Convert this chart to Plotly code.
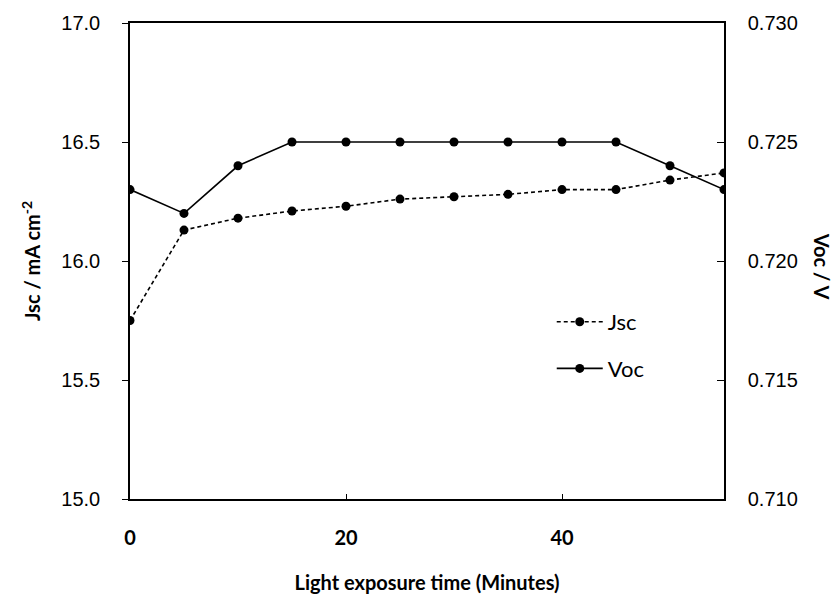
import plotly.graph_objects as go

time_min = [0, 5, 10, 15, 20, 25, 30, 35, 40, 45, 50, 55]
jsc = [15.75, 16.13, 16.18, 16.21, 16.23, 16.26, 16.27, 16.28, 16.30, 16.30, 16.34, 16.37]
voc = [0.723, 0.722, 0.724, 0.725, 0.725, 0.725, 0.725, 0.725, 0.725, 0.725, 0.724, 0.723]

x_ticks = [0, 20, 40]
y_ticks = [15.0, 15.5, 16.0, 16.5, 17.0]
y2_ticks = [0.710, 0.715, 0.720, 0.725, 0.730]

tick_font = dict(family="Liberation Sans, Arial", size=20, color="#000")
title_font = dict(family="Lato", size=20, color="#000", weight="bold")

fig = go.Figure()
fig.add_trace(go.Scatter(
    x=time_min, y=jsc, name="Jsc", mode="lines+markers",
    line=dict(color="#000", width=1.6, dash="4px,3px"),
    marker=dict(color="#000", size=9, symbol="circle"),
    legendgroup="a",
))
fig.add_trace(go.Scatter(
    x=time_min, y=voc, name="Voc", mode="lines+markers", yaxis="y2",
    line=dict(color="#000", width=1.6),
    marker=dict(color="#000", size=9, symbol="circle"),
    legendgroup="b",
))

fig.update_layout(
    width=838, height=603,
    margin=dict(l=130, r=114, t=20, b=102),
    paper_bgcolor="white", plot_bgcolor="white",
    showlegend=True,
    legend=dict(x=0.71, y=0.416, xanchor="left", yanchor="top",
                font=dict(family="Lato", size=22, color="#000"),
                bgcolor="rgba(0,0,0,0)", tracegroupgap=15, itemwidth=46),
    xaxis=dict(range=[0, 55], tickvals=x_ticks, ticks="inside", ticklen=5,
               tickcolor="#000", showline=True, linecolor="#000", linewidth=1.5,
               mirror=True, showgrid=False, zeroline=False,
               tickfont=dict(family="Lato", size=20, color="#000", weight="bold"),
               ticklabelstandoff=20,
               title=dict(text="Light exposure time (Minutes)", font=title_font, standoff=28)),
    yaxis=dict(range=[15, 17], tickvals=y_ticks, tickformat=".1f", ticks="outside",
               ticklen=6, tickcolor="#000", showline=True, linecolor="#000",
               linewidth=1.5, showgrid=False, zeroline=False, tickfont=tick_font,
               ticklabelstandoff=18,
               title=dict(text="Jsc / mA cm<sup>-2</sup>", font=title_font, standoff=15)),
    yaxis2=dict(range=[0.710, 0.730], tickvals=y2_ticks, tickformat=".3f",
                overlaying="y", side="right", ticks="inside", ticklen=7,
                tickcolor="#000", showline=True, linecolor="#000", linewidth=1.5,
                showgrid=False, zeroline=False, tickfont=tick_font,
                ticklabelstandoff=18),
    annotations=[dict(text="Voc / V", xref="paper", yref="paper", x=1.165, y=0.49,
                      showarrow=False, textangle=90, font=title_font,
                      xanchor="center", yanchor="middle")],
)

fig.write_html("out.html")
